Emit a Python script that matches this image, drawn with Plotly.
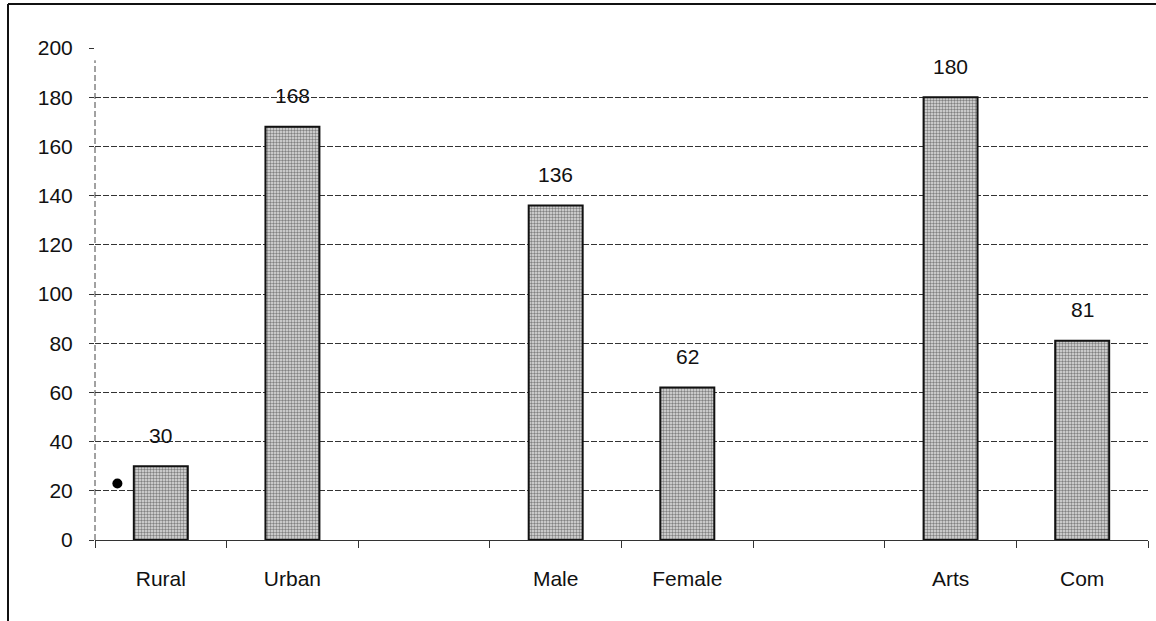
import plotly.graph_objects as go

categories = ["Rural", "Urban", "", "Male", "Female", "", "Arts", "Com"]
values = [30, 168, None, 136, 62, None, 180, 81]
y_ticks = [0, 20, 40, 60, 80, 100, 120, 140, 160, 180, 200]
dot_x = [-0.33]
dot_y = [23]

xs = list(range(len(categories)))
bar_x = [x for x, v in zip(xs, values) if v is not None]
bar_y = [v for v in values if v is not None]

FONT = "Liberation Sans, Arial, sans-serif"

fig = go.Figure()
fig.add_trace(go.Bar(
    x=bar_x, y=bar_y, width=0.41,
    marker=dict(
        color="#c8c8c8",
        line=dict(color="#111", width=2),
        pattern=dict(shape=".", size=3, solidity=0.5, fgcolor="#222", bgcolor="#e0e0e0"),
    ),
    showlegend=False, hoverinfo="skip",
))
fig.add_trace(go.Scatter(
    x=dot_x, y=dot_y, mode="markers",
    marker=dict(color="#000", size=10), showlegend=False, hoverinfo="skip",
))

for x, v in zip(bar_x, bar_y):
    fig.add_annotation(x=x, y=v, text=str(v), showarrow=False,
                       yanchor="middle", yshift=31,
                       font=dict(family=FONT, size=21, color="#111"))

# dashed vertical axis line
fig.add_shape(type="line", xref="x domain", yref="y", x0=0, x1=0, y0=0, y1=195,
              line=dict(color="#444", width=1, dash="6px,3px"))

# frame lines (left and top) around the chart
fig.add_shape(type="line", xref="paper", yref="paper",
              x0=(8 - 95) / 1053, x1=(8 - 95) / 1053, y0=(540 - 621) / 492, y1=(540 - 4) / 492,
              line=dict(color="#111", width=2))
fig.add_shape(type="line", xref="paper", yref="paper",
              x0=(8 - 95) / 1053, x1=(1156 - 95) / 1053, y0=(540 - 4) / 492, y1=(540 - 4) / 492,
              line=dict(color="#111", width=2))

fig.update_layout(
    width=1156, height=621,
    margin=dict(l=95, r=8, t=48, b=81),
    paper_bgcolor="white", plot_bgcolor="white",
    font=dict(family=FONT, size=21, color="#111"),
    xaxis=dict(
        range=[-0.5, 7.5], tickmode="array", tickvals=xs, ticktext=categories,
        ticks="", showgrid=False, zeroline=False,
        showline=True, linecolor="#333", linewidth=1,
        ticklabelstandoff=20,
        tickfont=dict(family=FONT, size=21, color="#111"),
        minor=dict(tickmode="array", tickvals=[i - 0.5 for i in range(9)],
                   ticks="outside", ticklen=7, tickcolor="#333", tickwidth=1, showgrid=False),
    ),
    yaxis=dict(
        range=[0, 200], tickmode="array", tickvals=y_ticks,
        ticks="outside", ticklen=5, tickcolor="#333",
        showgrid=True, gridcolor="#333", gridwidth=1, griddash="6px,2px",
        zeroline=False, showline=False,
        ticklabelstandoff=12,
        tickfont=dict(family=FONT, size=21, color="#111"),
    ),
)

fig.write_html("out.html", config={"displayModeBar": False},
               post_script="document.body.style.margin='0';")
